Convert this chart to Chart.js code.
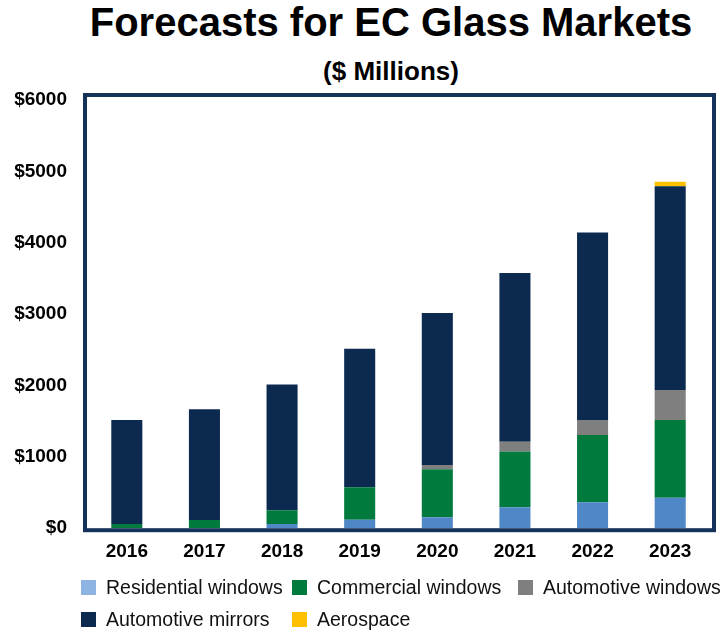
<!DOCTYPE html>
<html>
<head>
<meta charset="utf-8">
<title>Forecasts for EC Glass Markets</title>
<script src="https://cdn.jsdelivr.net/npm/chart.js@4.4.1/dist/chart.umd.min.js"></script>
<style>
  html, body { margin: 0; padding: 0; background: #fff; }
  body {
    position: relative;
    width: 726px;
    height: 634px;
    overflow: hidden;
    font-family: "Liberation Sans", Arial, sans-serif;
    color: #000;
  }
  #title {
    position: absolute; left: 0; top: 0; width: 782px;
    text-align: center; font-weight: bold; font-size: 40px; line-height: 44px;
  }
  #subtitle {
    position: absolute; left: 0; top: 56px; width: 782px;
    text-align: center; font-weight: bold; font-size: 26px; line-height: 30px;
  }
  #chartBox { position: absolute; left: 0; top: 0; }
  #legend {
    position: absolute; left: 81px; top: 576px;
    display: grid;
    grid-template-columns: 211px 226px auto;
    grid-auto-rows: 32px;
  }
  .legend-item {
    display: flex; align-items: center; height: 22px;
    font-size: 19.5px; color: #111; white-space: nowrap;
  }
  .legend-swatch { width: 15px; height: 15px; margin-right: 10px; flex: none; }
</style>
</head>
<body>
<div id="title">Forecasts for EC Glass Markets</div>
<div id="subtitle">($ Millions)</div>
<canvas id="chartBox" width="726" height="585"></canvas>
<div id="legend"></div>

<script>
// Categories
const years = ['2016', '2017', '2018', '2019', '2020', '2021', '2022', '2023'];

// Market size per segment, $ millions
const residentialWindows = [0, 0, 60, 120, 155, 295, 365, 425];
const commercialWindows  = [60, 115, 190, 455, 670, 780, 940, 1090];
const automotiveWindows  = [0, 0, 0, 0, 60, 135, 210, 420];
const automotiveMirrors  = [1455, 1550, 1765, 1940, 2130, 2365, 2630, 2855];
const aerospace          = [0, 0, 0, 0, 0, 0, 0, 65];

// Value axis
const yMax = 6000;
const yStep = 1000;

const tickFont = { family: '"Liberation Sans", Arial, sans-serif', size: 19, weight: 'bold' };

// dark frame around the plot area
const plotFrame = {
    id: 'plotFrame',
    afterDatasetsDraw(chart) {
        const { ctx, chartArea: a } = chart;
        ctx.save();
        ctx.strokeStyle = '#15335a';
        ctx.lineWidth = 4;
        ctx.strokeRect(a.left - 3, a.top - 5, a.right - a.left + 8, a.bottom - a.top + 7);
        ctx.restore();
    }
};

const datasets = [
    { label: 'Residential windows', data: residentialWindows, backgroundColor: '#4f87c7', legendColor: '#8db4e2' },
    { label: 'Commercial windows',  data: commercialWindows,  backgroundColor: '#007a3d' },
    { label: 'Automotive windows',  data: automotiveWindows,  backgroundColor: '#7f7f7f' },
    { label: 'Automotive mirrors',  data: automotiveMirrors,  backgroundColor: '#0c2a4f' },
    { label: 'Aerospace',           data: aerospace,          backgroundColor: '#ffc000' }
];

const chart = new Chart(document.getElementById('chartBox'), {
    type: 'bar',
    data: { labels: years, datasets: datasets },
    options: {
        responsive: false,
        animation: false,
        devicePixelRatio: 1,
        layout: { padding: { top: 100, left: 14, right: 17, bottom: 10 } },
        datasets: {
            bar: { barPercentage: 0.4, categoryPercentage: 1.0, borderWidth: 0 }
        },
        plugins: {
            legend: { display: false },
            title: { display: false },
            tooltip: { enabled: false }
        },
        scales: {
            x: {
                stacked: true,
                grid: { display: false, drawTicks: false },
                border: { display: false },
                ticks: { color: '#000', font: tickFont, padding: 12 }
            },
            y: {
                stacked: true,
                min: 0,
                max: yMax,
                grid: { display: false, drawTicks: false },
                border: { display: false },
                ticks: {
                    stepSize: yStep,
                    color: '#000',
                    font: tickFont,
                    padding: 21,
                    callback: v => '$' + v
                },
                // label column plus gap, without the doubled tick padding
                afterFit(scale) { scale.width = 74; }
            }
        }
    },
    plugins: [plotFrame]
});

// legend laid out in three columns under the chart
const legendEl = document.getElementById('legend');
chart.data.datasets.forEach(ds => {
    const item = document.createElement('div');
    item.className = 'legend-item';
    const swatch = document.createElement('span');
    swatch.className = 'legend-swatch';
    swatch.style.background = ds.legendColor || ds.backgroundColor;
    item.appendChild(swatch);
    item.appendChild(document.createTextNode(ds.label));
    legendEl.appendChild(item);
});
</script>
</body>
</html>
